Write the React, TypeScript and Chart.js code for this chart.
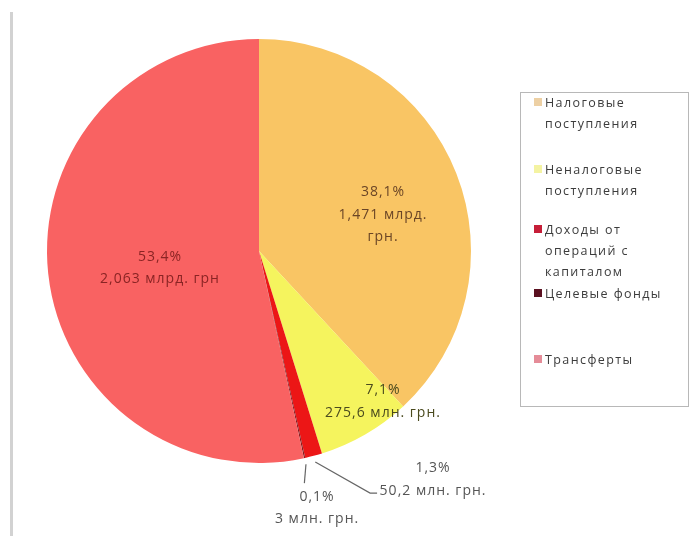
import React, { useEffect, useRef } from "react";
import { Chart, registerables } from "chart.js";

Chart.register(...registerables);

// ---- data ----
const categories = [
  "Налоговые поступления",
  "Неналоговые поступления",
  "Доходы от операций с капиталом",
  "Целевые фонды",
  "Трансферты",
];
const legendLines = [
  ["Налоговые", "поступления"],
  ["Неналоговые", "поступления"],
  ["Доходы от", "операций с", "капиталом"],
  ["Целевые фонды"],
  ["Трансферты"],
];
const shares = [38.1, 7.1, 1.3, 0.1, 53.4];
const amountLabels = [
  ["1,471 млрд.", "грн."],
  ["275,6 млн. грн."],
  ["50,2 млн. грн."],
  ["3 млн. грн."],
  ["2,063 млрд. грн"],
];

// ---- styles ----
const sliceColors = ["#F9C564", "#F5F45E", "#EC1616", "#8A1A1E", "#F96262"];
const legendColors = ["#EDD0A4", "#F4F3A2", "#C61E38", "#5A1020", "#E58C98"];
const labelColors = ["#6A4526", "#4A4A1E", "#555555", "#555555", "#8A2424"];
// label first-line positions relative to pie centre, in units of radius
const labelPos = [
  { fx: 0.585, fy: -0.278 },
  { fx: 0.585, fy: 0.656 },
  { fx: 0.821, fy: 1.024 },
  { fx: 0.274, fy: 1.16 },
  { fx: -0.467, fy: 0.028 },
];
// leader line points (relative units) for outside labels
const leaders: Record<number, [number, number][]> = {
  2: [
    [0.524, 1.142],
    [0.557, 1.142],
  ],
  3: [[0.214, 1.095]],
};
const legendTops = [92, 159, 219, 283, 349];

const fmtPct = (v: number) => v.toFixed(1).replace(".", ",") + "%";

const labelPlugin = {
  id: "sliceLabels",
  afterDatasetsDraw(chart: any) {
    const ctx = chart.ctx as CanvasRenderingContext2D;
    const meta = chart.getDatasetMeta(0);
    meta.data.forEach((arc: any, i: number) => {
      const { x, y, outerRadius: R, startAngle, endAngle } = arc.getProps(
        ["x", "y", "outerRadius", "startAngle", "endAngle"],
        true
      );
      const mid = (startAngle + endAngle) / 2;
      ctx.save();
      if (leaders[i]) {
        ctx.strokeStyle = "#666";
        ctx.lineWidth = 1.2;
        ctx.beginPath();
        ctx.moveTo(x + Math.cos(mid) * R * 1.03, y + Math.sin(mid) * R * 1.03);
        leaders[i].forEach(([px, py]) => ctx.lineTo(x + px * R, y + py * R));
        ctx.stroke();
      }
      const lines = [fmtPct(shares[i]), ...amountLabels[i]];
      ctx.font = "14px 'Open Sans'";
      (ctx as any).letterSpacing = "1px";
      ctx.fillStyle = labelColors[i];
      ctx.textAlign = "center";
      ctx.textBaseline = "middle";
      const lx = x + labelPos[i].fx * R;
      const ly = y + labelPos[i].fy * R;
      lines.forEach((t, k) => ctx.fillText(t, lx, ly + k * 22.5));
      ctx.restore();
    });
  },
};

export default function App() {
  const ref = useRef<HTMLCanvasElement | null>(null);
  useEffect(() => {
    if (!ref.current) return;
    const chart = new Chart(ref.current, {
      type: "pie",
      data: {
        labels: categories,
        datasets: [
          {
            data: shares,
            backgroundColor: sliceColors,
            borderWidth: 0,
          },
        ],
      },
      options: {
        animation: false,
        responsive: true,
        maintainAspectRatio: false,
        layout: { padding: { left: 47, top: 39, right: 228, bottom: 73 } },
        plugins: {
          legend: { display: false },
          tooltip: { enabled: false },
        },
      },
      plugins: [labelPlugin],
    });
    return () => chart.destroy();
  }, []);

  return (
    <div
      style={{
        position: "absolute",
        left: 0,
        top: 0,
        width: 699,
        height: 536,
        background: "#fff",
        overflow: "hidden",
        fontFamily: "'Open Sans', sans-serif",
      }}
    >
      <div
        style={{
          position: "absolute",
          left: 10,
          top: 12,
          width: 3,
          height: 524,
          background: "#d2d2d2",
        }}
      />
      <div style={{ position: "absolute", left: 0, top: 0, width: 699, height: 536 }}>
        <canvas ref={ref} />
      </div>
      <div
        style={{
          position: "absolute",
          left: 520,
          top: 92,
          width: 169,
          height: 315,
          border: "1.5px solid #b8b8b8",
          boxSizing: "border-box",
        }}
      />
      {categories.map((c, i) => (
        <div
          key={c}
          style={{
            position: "absolute",
            left: 534,
            top: legendTops[i],
            display: "flex",
            alignItems: "flex-start",
            fontSize: 12.5,
            letterSpacing: "1.4px",
            lineHeight: "21px",
            color: "#3c3c3c",
          }}
        >
          <span
            style={{
              display: "inline-block",
              width: 8,
              height: 8,
              marginTop: 6,
              marginRight: 3,
              background: legendColors[i],
            }}
          />
          <span>
            {legendLines[i].map((l, k) => (
              <div key={k}>{l}</div>
            ))}
          </span>
        </div>
      ))}
    </div>
  );
}
